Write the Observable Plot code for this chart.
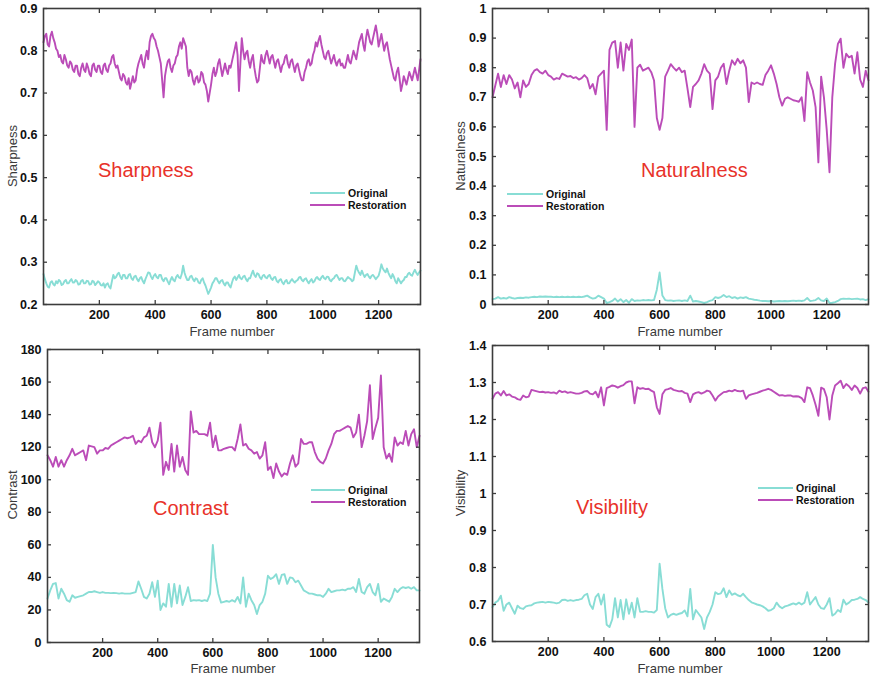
<!DOCTYPE html>
<html><head><meta charset="utf-8">
<script src="https://cdn.jsdelivr.net/npm/d3@7"></script>
<script src="https://cdn.jsdelivr.net/npm/@observablehq/plot@0.6"></script>
<style>
body{margin:0;background:#fff;}
#root{position:relative;width:870px;height:678px;overflow:hidden;font-family:"Liberation Sans",Arial,sans-serif;}
.panel{position:absolute;}
.t{position:absolute;white-space:nowrap;line-height:1;}
.title{color:#e8322a;font-size:20px;transform:translateY(-50%);}
.axl{color:#3a3a3a;font-size:13px;transform:translate(-50%,-50%);}
.ayl{color:#3a3a3a;font-size:13px;transform:translate(-50%,-50%) rotate(-90deg);}
.lg{position:absolute;height:2px;}
.lgt{font-size:10.5px;font-weight:bold;color:#111;transform:translateY(-50%);}
</style></head><body><div id="root"></div><script>
// ---------- data ----------
const frames = [0,10,20,30,40,50,60,70,80,90,100,110,120,130,140,150,160,170,180,190,200,210,220,230,240,250,260,270,280,290,300,310,320,330,340,350,360,370,380,390,400,410,420,430,440,450,460,470,480,490,500,510,520,530,540,550,560,570,580,590,600,610,620,630,640,650,660,670,680,690,700,710,720,730,740,750,760,770,780,790,800,810,820,830,840,850,860,870,880,890,900,910,920,930,940,950,960,970,980,990,1000,1010,1020,1030,1040,1050,1060,1070,1080,1090,1100,1110,1120,1130,1140,1150,1160,1170,1180,1190,1200,1210,1220,1230,1240,1250,1260,1270,1280,1290,1300,1310,1320,1330,1340,1350];
const sharpnessFrames = [0,5,10,15,20,25,30,35,40,45,50,55,60,65,70,75,80,85,90,95,100,105,110,115,120,125,130,135,140,145,150,155,160,165,170,175,180,185,190,195,200,205,210,215,220,225,230,235,240,245,250,255,260,265,270,275,280,285,290,295,300,305,310,315,320,325,330,335,340,345,350,355,360,365,370,375,380,385,390,395,400,405,410,415,420,425,430,435,440,445,450,455,460,465,470,475,480,485,490,495,500,505,510,515,520,525,530,535,540,545,550,555,560,565,570,575,580,585,590,595,600,605,610,615,620,625,630,635,640,645,650,655,660,665,670,675,680,685,690,695,700,705,710,715,720,725,730,735,740,745,750,755,760,765,770,775,780,785,790,795,800,805,810,815,820,825,830,835,840,845,850,855,860,865,870,875,880,885,890,895,900,905,910,915,920,925,930,935,940,945,950,955,960,965,970,975,980,985,990,995,1000,1005,1010,1015,1020,1025,1030,1035,1040,1045,1050,1055,1060,1065,1070,1075,1080,1085,1090,1095,1100,1105,1110,1115,1120,1125,1130,1135,1140,1145,1150,1155,1160,1165,1170,1175,1180,1185,1190,1195,1200,1205,1210,1215,1220,1225,1230,1235,1240,1245,1250,1255,1260,1265,1270,1275,1280,1285,1290,1295,1300,1305,1310,1315,1320,1325,1330,1335,1340,1345,1350];
const xTicks = [200,400,600,800,1000,1200];
const seriesNames = ["Original","Restoration"];

const sharpnessOriginal = [
0.272,0.26,0.25,0.242,0.24,0.252,0.255,0.248,0.245,0.255,0.25,0.258,0.255,0.246,0.248,0.255,0.258,0.25,0.25,0.256,
0.26,0.252,0.252,0.258,0.255,0.247,0.248,0.256,0.258,0.25,0.25,0.256,0.255,0.247,0.248,0.256,0.254,0.246,0.25,0.255,
0.252,0.246,0.245,0.25,0.24,0.248,0.25,0.242,0.238,0.255,0.27,0.262,0.265,0.272,0.275,0.266,0.26,0.27,0.27,0.262,
0.262,0.27,0.272,0.262,0.258,0.266,0.268,0.26,0.255,0.262,0.265,0.256,0.25,0.26,0.268,0.276,0.275,0.266,0.26,0.268,
0.272,0.265,0.262,0.27,0.27,0.26,0.255,0.262,0.262,0.254,0.248,0.258,0.265,0.258,0.255,0.265,0.27,0.264,0.262,0.272,
0.292,0.275,0.265,0.258,0.258,0.266,0.268,0.26,0.255,0.262,0.26,0.252,0.25,0.258,0.262,0.252,0.245,0.235,0.225,0.232,
0.24,0.25,0.255,0.262,0.262,0.255,0.25,0.256,0.258,0.25,0.245,0.252,0.252,0.245,0.24,0.252,0.262,0.266,0.258,0.264,
0.27,0.262,0.26,0.266,0.268,0.26,0.255,0.262,0.262,0.272,0.28,0.27,0.265,0.274,0.272,0.264,0.26,0.268,0.27,0.264,
0.262,0.268,0.27,0.262,0.258,0.264,0.265,0.256,0.252,0.258,0.26,0.252,0.248,0.255,0.258,0.25,0.25,0.256,0.26,0.255,
0.252,0.256,0.258,0.264,0.265,0.258,0.255,0.26,0.262,0.255,0.25,0.256,0.26,0.252,0.255,0.262,0.265,0.26,0.258,0.264,
0.268,0.262,0.26,0.266,0.265,0.258,0.255,0.26,0.262,0.268,0.27,0.264,0.258,0.262,0.262,0.256,0.255,0.26,0.265,0.262,
0.26,0.255,0.258,0.275,0.292,0.282,0.275,0.27,0.28,0.272,0.265,0.27,0.272,0.266,0.262,0.268,0.27,0.265,0.26,0.264,
0.268,0.28,0.295,0.285,0.28,0.276,0.285,0.275,0.268,0.262,0.272,0.265,0.255,0.25,0.262,0.256,0.25,0.255,0.258,0.265,
0.265,0.272,0.275,0.27,0.268,0.276,0.282,0.275,0.27,0.276,0.28];
const sharpnessRestoration = [
0.82,0.835,0.84,0.815,0.81,0.835,0.845,0.83,0.82,0.805,0.80,0.785,0.79,0.775,0.77,0.79,0.78,0.765,0.76,0.775,
0.77,0.755,0.75,0.765,0.765,0.745,0.74,0.76,0.77,0.755,0.75,0.77,0.76,0.745,0.74,0.765,0.77,0.755,0.75,0.765,
0.765,0.75,0.745,0.765,0.77,0.755,0.75,0.765,0.77,0.785,0.79,0.77,0.76,0.765,0.75,0.735,0.73,0.745,0.74,0.725,
0.72,0.735,0.71,0.725,0.74,0.725,0.73,0.755,0.77,0.78,0.79,0.77,0.76,0.785,0.80,0.78,0.82,0.835,0.84,0.83,
0.825,0.81,0.80,0.785,0.77,0.73,0.69,0.74,0.76,0.775,0.78,0.76,0.75,0.765,0.77,0.785,0.79,0.81,0.82,0.805,
0.83,0.82,0.81,0.76,0.74,0.755,0.75,0.73,0.72,0.735,0.74,0.725,0.73,0.75,0.745,0.725,0.72,0.705,0.68,0.70,
0.72,0.745,0.76,0.74,0.75,0.77,0.78,0.76,0.74,0.755,0.77,0.755,0.745,0.765,0.76,0.775,0.79,0.805,0.82,0.79,
0.705,0.77,0.83,0.80,0.78,0.795,0.80,0.775,0.76,0.78,0.79,0.76,0.74,0.725,0.73,0.76,0.79,0.775,0.77,0.79,
0.80,0.785,0.77,0.785,0.79,0.775,0.76,0.775,0.78,0.765,0.75,0.765,0.77,0.785,0.79,0.77,0.76,0.775,0.78,0.765,
0.75,0.765,0.77,0.755,0.74,0.73,0.73,0.75,0.76,0.775,0.78,0.765,0.77,0.79,0.80,0.82,0.81,0.825,0.835,0.815,
0.80,0.785,0.78,0.795,0.80,0.785,0.77,0.78,0.79,0.775,0.765,0.775,0.78,0.765,0.77,0.76,0.76,0.775,0.79,0.775,
0.77,0.785,0.80,0.79,0.78,0.80,0.82,0.83,0.84,0.815,0.80,0.83,0.85,0.835,0.82,0.815,0.83,0.845,0.86,0.84,
0.81,0.825,0.84,0.82,0.80,0.815,0.82,0.80,0.78,0.765,0.75,0.735,0.73,0.75,0.76,0.735,0.705,0.72,0.74,0.73,
0.72,0.735,0.75,0.74,0.73,0.745,0.76,0.745,0.73,0.755,0.78];

const naturalnessOriginal = [
0.018,0.02,0.025,0.02,0.022,0.02,0.025,0.022,0.02,0.022,
0.023,0.022,0.024,0.023,0.025,0.026,0.025,0.027,0.026,0.027,
0.026,0.026,0.025,0.026,0.025,0.026,0.025,0.026,0.025,0.026,
0.025,0.026,0.025,0.027,0.03,0.024,0.02,0.022,0.03,0.025,
0.02,0.005,0.008,0.012,0.02,0.01,0.018,0.008,0.015,0.006,
0.018,0.012,0.014,0.013,0.015,0.014,0.015,0.014,0.015,0.05,
0.108,0.03,0.015,0.013,0.014,0.012,0.013,0.014,0.012,0.014,
0.012,0.03,0.01,0.012,0.01,0.008,0.005,0.008,0.012,0.015,
0.025,0.022,0.025,0.032,0.025,0.028,0.022,0.025,0.02,0.024,
0.022,0.025,0.02,0.018,0.016,0.015,0.013,0.012,0.012,0.011,
0.012,0.01,0.011,0.012,0.011,0.012,0.011,0.012,0.013,0.012,
0.013,0.012,0.014,0.022,0.012,0.013,0.015,0.022,0.014,0.012,
0.02,0.005,0.006,0.008,0.012,0.018,0.02,0.019,0.02,0.018,
0.019,0.02,0.017,0.018,0.015,0.018];
const naturalnessRestoration = [
0.70,0.74,0.78,0.735,0.775,0.745,0.775,0.76,0.73,0.75,
0.70,0.757,0.735,0.745,0.775,0.79,0.795,0.785,0.78,0.79,
0.775,0.77,0.76,0.765,0.762,0.78,0.775,0.77,0.772,0.765,
0.768,0.76,0.765,0.775,0.765,0.73,0.745,0.71,0.77,0.78,
0.79,0.59,0.86,0.885,0.89,0.80,0.885,0.79,0.88,0.86,
0.895,0.60,0.80,0.81,0.79,0.795,0.80,0.785,0.757,0.63,
0.59,0.63,0.77,0.79,0.812,0.80,0.79,0.80,0.785,0.79,
0.73,0.667,0.735,0.745,0.757,0.78,0.812,0.79,0.78,0.66,
0.757,0.77,0.80,0.813,0.745,0.79,0.825,0.81,0.83,0.815,
0.825,0.80,0.684,0.75,0.745,0.75,0.745,0.742,0.775,0.79,
0.808,0.78,0.745,0.70,0.672,0.695,0.70,0.695,0.69,0.688,
0.685,0.70,0.62,0.785,0.75,0.723,0.667,0.48,0.77,0.70,
0.59,0.447,0.70,0.813,0.88,0.898,0.80,0.847,0.835,0.84,
0.78,0.852,0.76,0.735,0.79,0.757];

const contrastOriginal = [
27,32,36,36.5,27,33,30,26,25,29,
27.5,28,28.5,29,30,31,31,31.5,31,30.5,
31,30.5,30.5,30.3,30.5,30.3,30,30.3,30,30,
30,30.5,31,37.5,33,28,27,30,37,28,
38,20,24,22,36,22,36,24,35,23,
28,34,25.5,26,25.8,26,25.5,26,25.5,30,
60,40,30,24.5,25,25.5,25,26,25,28,
24,40,22,30,26,23,17.5,23,25,30,
41,39,40,42,36,41.5,42,36,40,39.5,
37,38,35,32,31,30,30,29.5,29,29,
28,30,33,31,31.5,32,32,32.5,32,33,
33,34,31,39,31,30,34,36,31,29,
36,25,27,26,25,28,33,31,33,34,
33.5,34,33,34,32,32];
const contrastRestoration = [
115,112,108,114,108,112,108,112,115,119,
115,116,117,118,112,121,120.5,120,116,118,
118,119.5,119,121,122,123,124,125,126,125.5,
126,127,122,124,123,126,127,132,123,120,
124,135,103,111,106,122,105,121,108,114,
106,103,142,129,130,128,128,128,127,135,
120,127,118,118,119,119.5,120,120,118,125,
134,121,122,119,118,116,117,113,115,123,
106,108,101,110,105,102,104,103,110,115,
108,110,125,122,122,123,123,117,113,111,
110,113,118,122,128,130,130,131,132,133,
132,126,129,140,120,127,136,158,125,132,
138,164,120,113,116,111,126,121,123,122,
130,121,128,131,120,127];

const visibilityOriginal = [
0.693,0.705,0.71,0.724,0.683,0.70,0.705,0.69,0.675,0.697,
0.69,0.688,0.695,0.697,0.698,0.703,0.705,0.706,0.707,0.705,
0.707,0.706,0.705,0.703,0.705,0.712,0.713,0.71,0.712,0.71,
0.712,0.713,0.715,0.725,0.729,0.70,0.688,0.72,0.729,0.70,
0.727,0.645,0.639,0.66,0.717,0.665,0.712,0.66,0.714,0.675,
0.705,0.665,0.717,0.68,0.68,0.682,0.68,0.68,0.678,0.685,
0.81,0.742,0.69,0.665,0.672,0.675,0.672,0.675,0.677,0.684,
0.668,0.742,0.66,0.685,0.675,0.665,0.634,0.665,0.68,0.70,
0.733,0.728,0.73,0.744,0.72,0.738,0.726,0.73,0.725,0.722,
0.729,0.72,0.712,0.706,0.703,0.70,0.698,0.695,0.69,0.683,
0.685,0.69,0.705,0.695,0.69,0.695,0.697,0.70,0.703,0.70,
0.705,0.70,0.705,0.733,0.70,0.71,0.72,0.70,0.69,0.688,
0.70,0.717,0.67,0.675,0.685,0.68,0.713,0.70,0.705,0.712,
0.713,0.715,0.72,0.715,0.712,0.705];
const visibilityRestoration = [
1.256,1.27,1.274,1.265,1.277,1.265,1.268,1.262,1.26,1.255,
1.253,1.265,1.26,1.262,1.28,1.278,1.276,1.274,1.275,1.273,
1.274,1.272,1.273,1.27,1.278,1.274,1.276,1.272,1.274,1.272,
1.27,1.27,1.272,1.276,1.277,1.27,1.268,1.275,1.26,1.287,
1.238,1.285,1.288,1.292,1.29,1.286,1.29,1.293,1.30,1.303,
1.303,1.244,1.287,1.283,1.285,1.282,1.283,1.278,1.274,1.233,
1.215,1.268,1.28,1.282,1.285,1.28,1.278,1.276,1.277,1.272,
1.27,1.247,1.268,1.272,1.274,1.27,1.273,1.278,1.276,1.265,
1.251,1.262,1.268,1.274,1.275,1.278,1.276,1.28,1.277,1.276,
1.278,1.256,1.265,1.268,1.27,1.272,1.275,1.278,1.28,1.283,
1.28,1.275,1.27,1.265,1.266,1.264,1.265,1.265,1.262,1.263,
1.262,1.258,1.247,1.287,1.285,1.265,1.24,1.21,1.286,1.282,
1.26,1.20,1.265,1.292,1.298,1.305,1.285,1.296,1.29,1.28,
1.292,1.285,1.27,1.285,1.287,1.275];

const sharpnessTicks = [0.2,0.3,0.4,0.5,0.6,0.7,0.8,0.9];
const naturalnessTicks = [0,0.1,0.2,0.3,0.4,0.5,0.6,0.7,0.8,0.9,1];
const contrastTicks = [0,20,40,60,80,100,120,140,160,180];
const visibilityTicks = [0.6,0.7,0.8,0.9,1,1.1,1.2,1.3,1.4];

// ---------- drawing ----------
const CYAN = "#88ddd5", MAG = "#bb4cb8", FRAME = "#3c3c3c";
const FONT = "'Liberation Sans', Arial, Helvetica, sans-serif";
const root = document.getElementById("root");

function table(xs, vals){ return xs.map((f,i)=>({frame:f, value:vals[i]})); }

function panel(o){
  const yT = o.yTicks, yDom = [yT[0], yT[yT.length-1]];
  const xs = o.xs || frames;
  const common = {stroke: FRAME, strokeWidth: 1.3, label: null};
  const svg = Plot.plot({
    width: 435, height: 339,
    marginLeft: o.m[0], marginRight: o.m[1], marginTop: o.m[2], marginBottom: o.m[3],
    style: {fontFamily: FONT, fontSize: "12.5px", color: "#111", background: "transparent", overflow: "visible"},
    x: {domain: [0,1350], label: null},
    y: {domain: yDom, label: null},
    marks: [
      Plot.line(table(xs, o.orig), {x:"frame", y:"value", stroke: CYAN, strokeWidth: 1.9}),
      Plot.line(table(xs, o.rest), {x:"frame", y:"value", stroke: MAG, strokeWidth: 1.9}),
      Plot.frame({stroke: FRAME, strokeWidth: 1.6}),
      Plot.axisX(xTicks, {...common, anchor:"bottom", tickSize:-4, tickPadding:10, fontWeight:"bold", tickFormat: d=>String(d)}),
      Plot.axisX(xTicks, {...common, anchor:"top", tickSize:-4, tickFormat: ()=>""}),
      Plot.axisY(yT, {...common, anchor:"left", tickSize:-4, tickPadding:10, fontWeight:"bold", tickFormat: d=>String(d)}),
      Plot.axisY(yT, {...common, anchor:"right", tickSize:-4, tickFormat: ()=>""})
    ]
  });
  svg.classList.add("panel");
  svg.style.left = o.left + "px"; svg.style.top = o.top + "px";
  root.appendChild(svg);

  const add = (cls, text, x, y) => {
    const d = document.createElement("div");
    d.className = "t " + cls; d.textContent = text;
    d.style.left = x + "px"; d.style.top = y + "px";
    root.appendChild(d);
  };
  add("title", o.title, o.titlePos[0], o.titlePos[1]);
  add("axl", "Frame number", o.xLab[0], o.xLab[1]);
  add("ayl", o.title, o.yLab[0], o.yLab[1]);
  const [lx1, lx2, ly] = o.legend;
  [CYAN, MAG].forEach((c, i) => {
    const ln = document.createElement("div");
    ln.className = "lg";
    ln.style.left = lx1 + "px"; ln.style.width = (lx2 - lx1) + "px";
    ln.style.top = (ly + i*12 - 1) + "px"; ln.style.background = c;
    root.appendChild(ln);
    add("lgt", seriesNames[i], lx2 + 3, ly + i*12);
  });
}

panel({left:0, top:0, m:[43,15,8,35], yTicks: sharpnessTicks, xs: sharpnessFrames, orig: sharpnessOriginal, rest: sharpnessRestoration,
  title:"Sharpness", titlePos:[98,170], xLab:[232,331], yLab:[12,156], legend:[310,345,193]});
panel({left:435, top:0, m:[57,2,8,35], yTicks: naturalnessTicks, orig: naturalnessOriginal, rest: naturalnessRestoration,
  title:"Naturalness", titlePos:[641,170], xLab:[680,331], yLab:[460,156], legend:[507,543,194]});
panel({left:0, top:339, m:[47,16,10,36], yTicks: contrastTicks, orig: contrastOriginal, rest: contrastRestoration,
  title:"Contrast", titlePos:[153,508], xLab:[233,668], yLab:[12,495], legend:[311,345,490]});
panel({left:435, top:339, m:[57,2,6,37], yTicks: visibilityTicks, orig: visibilityOriginal, rest: visibilityRestoration,
  title:"Visibility", titlePos:[576,507], xLab:[680,668], yLab:[460,493], legend:[758,793,488]});
</script></body></html>
